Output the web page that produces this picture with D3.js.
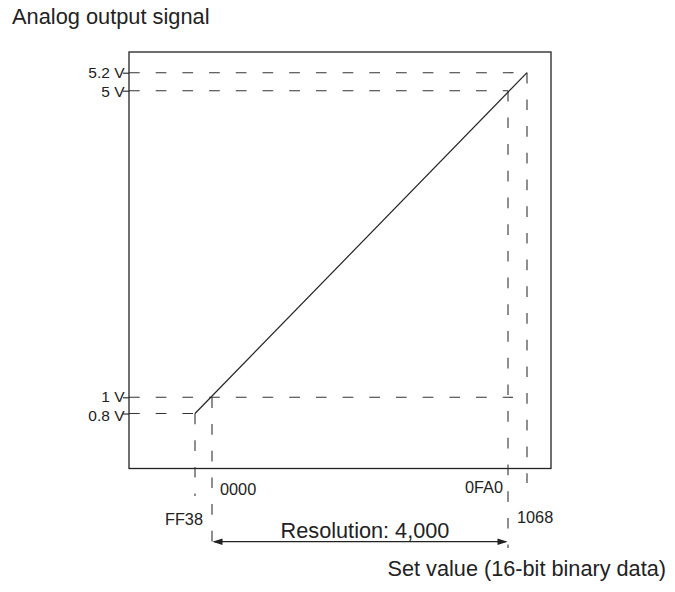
<!DOCTYPE html>
<html>
<head>
<meta charset="utf-8">
<script src="https://cdn.jsdelivr.net/npm/d3@7"></script>
<style>
  html, body { margin: 0; padding: 0; background: #fff; }
  svg { display: block; }
  text { font-family: "Liberation Sans", Arial, Helvetica, sans-serif; fill: #222; }
</style>
</head>
<body>
<svg id="chart" width="675" height="592"></svg>
<script>
// ---- data ----
const xValues = [-200, 0, 4000, 4200];              // set values (decimal)
const xLabels = ["FF38", "0000", "0FA0", "1068"];   // hex tick labels
const yValues = [0.8, 1, 5, 5.2];                   // volts
const yLabels = ["0.8 V", "1 V", "5 V", "5.2 V"];
const lineX = [-200, 4200];
const lineY = [0.8, 5.2];
const resolutionFrom = 0, resolutionTo = 4000;
const titleText = "Analog output signal";
const xTitleText = "Set value (16-bit binary data)";
const resolutionText = "Resolution: 4,000";

// ---- layout ----
const box = { left: 129, top: 52, right: 551, bottom: 468.5 };
const svg = d3.select("#chart");

// schematic (piece-wise) scales, as in the original drawing
const x = d3.scaleLinear().domain(xValues).range([195, 212, 508, 527]);
const y = d3.scaleLinear().domain(yValues).range([413.5, 397.3, 90.7, 72.7]);

const dash = "10.7,16";
const dashColor = "#333";

// plot frame
svg.append("rect")
  .attr("x", box.left).attr("y", box.top)
  .attr("width", box.right - box.left).attr("height", box.bottom - box.top)
  .attr("fill", "none").attr("stroke", "#222").attr("stroke-width", 1.3);

// y ticks + labels
const yLabelNudge = [1.2, -1.2, 0.6, -0.6];
const yAxis = d3.axisLeft(y).tickValues(yValues).tickSize(6)
  .tickFormat((d, i) => yLabels[i]);
const ya = svg.append("g").attr("transform", `translate(${box.left},0)`).call(yAxis);
ya.select(".domain").remove();
ya.selectAll(".tick line").attr("stroke", "#222").attr("stroke-width", 1.1);
ya.selectAll(".tick text")
  .attr("x", -4.5).attr("y", (d, i) => yLabelNudge[i]).attr("dy", "0.36em")
  .style("font-family", '"Liberation Sans", Arial, sans-serif')
  .style("font-size", "15.5px").attr("fill", "#222");

// horizontal guide lines (from axis to the point where they meet)
const hEnds = { 0.8: x(-200), 1: x(4000) + 5, 5: x(4000), 5.2: x(4200) };
svg.append("g").selectAll("line").data(yValues).join("line")
  .attr("x1", box.left).attr("x2", d => hEnds[d])
  .attr("y1", d => y(d)).attr("y2", d => y(d))
  .attr("stroke", dashColor).attr("stroke-width", 1.1)
  .attr("stroke-dasharray", dash);

// vertical guide lines
const vTop = { [-200]: y(0.8), 0: y(1), 4000: y(5), 4200: y(5.2) };
const vBottom = { [-200]: 496, 0: 541.7, 4000: 548, 4200: 483 };
svg.append("g").selectAll("line").data(xValues).join("line")
  .attr("x1", d => x(d)).attr("x2", d => x(d))
  .attr("y1", d => vTop[d]).attr("y2", d => vBottom[d])
  .attr("stroke", dashColor).attr("stroke-width", 1.1)
  .attr("stroke-dasharray", dash);

// x tick labels
const xLabelPos = {
  [-200]: { dx: 8, y: 525, anchor: "end" },
  0: { dx: 8, y: 495, anchor: "start" },
  4000: { dx: -5, y: 493.3, anchor: "end" },
  4200: { dx: -10, y: 523.3, anchor: "start" }
};
svg.append("g").selectAll("text").data(xValues).join("text")
  .attr("x", d => x(d) + xLabelPos[d].dx)
  .attr("y", d => xLabelPos[d].y)
  .attr("text-anchor", d => xLabelPos[d].anchor)
  .style("font-size", "16.3px")
  .text((d, i) => xLabels[i]);

// characteristic line
svg.append("path")
  .datum(lineX.map((v, i) => [v, lineY[i]]))
  .attr("d", d3.line().x(d => x(d[0])).y(d => y(d[1])))
  .attr("fill", "none").attr("stroke", "#222").attr("stroke-width", 1.2);

// resolution arrow
const ay = 541.7;
const ax1 = x(resolutionFrom), ax2 = x(resolutionTo);
svg.append("line")
  .attr("x1", ax1 + 2).attr("x2", ax2 - 2).attr("y1", ay).attr("y2", ay)
  .attr("stroke", "#222").attr("stroke-width", 1.3);
const head = (tipX, dir) => `M${tipX},${ay} L${tipX + dir * 10},${ay - 3.2} L${tipX + dir * 10},${ay + 3.2} Z`;
svg.append("path").attr("d", head(ax1 + 0.5, 1)).attr("fill", "#222");
svg.append("path").attr("d", head(ax2 - 0.5, -1)).attr("fill", "#222");
svg.append("text")
  .attr("x", (ax1 + ax2) / 2 + 5).attr("y", 538.3)
  .attr("text-anchor", "middle")
  .style("font-size", "21.7px")
  .text(resolutionText);

// titles
svg.append("text").attr("x", 12).attr("y", 24)
  .style("font-size", "21.8px").text(titleText);
svg.append("text").attr("x", 666).attr("y", 575.7)
  .attr("text-anchor", "end")
  .style("font-size", "21.7px").text(xTitleText);
</script>
</body>
</html>
